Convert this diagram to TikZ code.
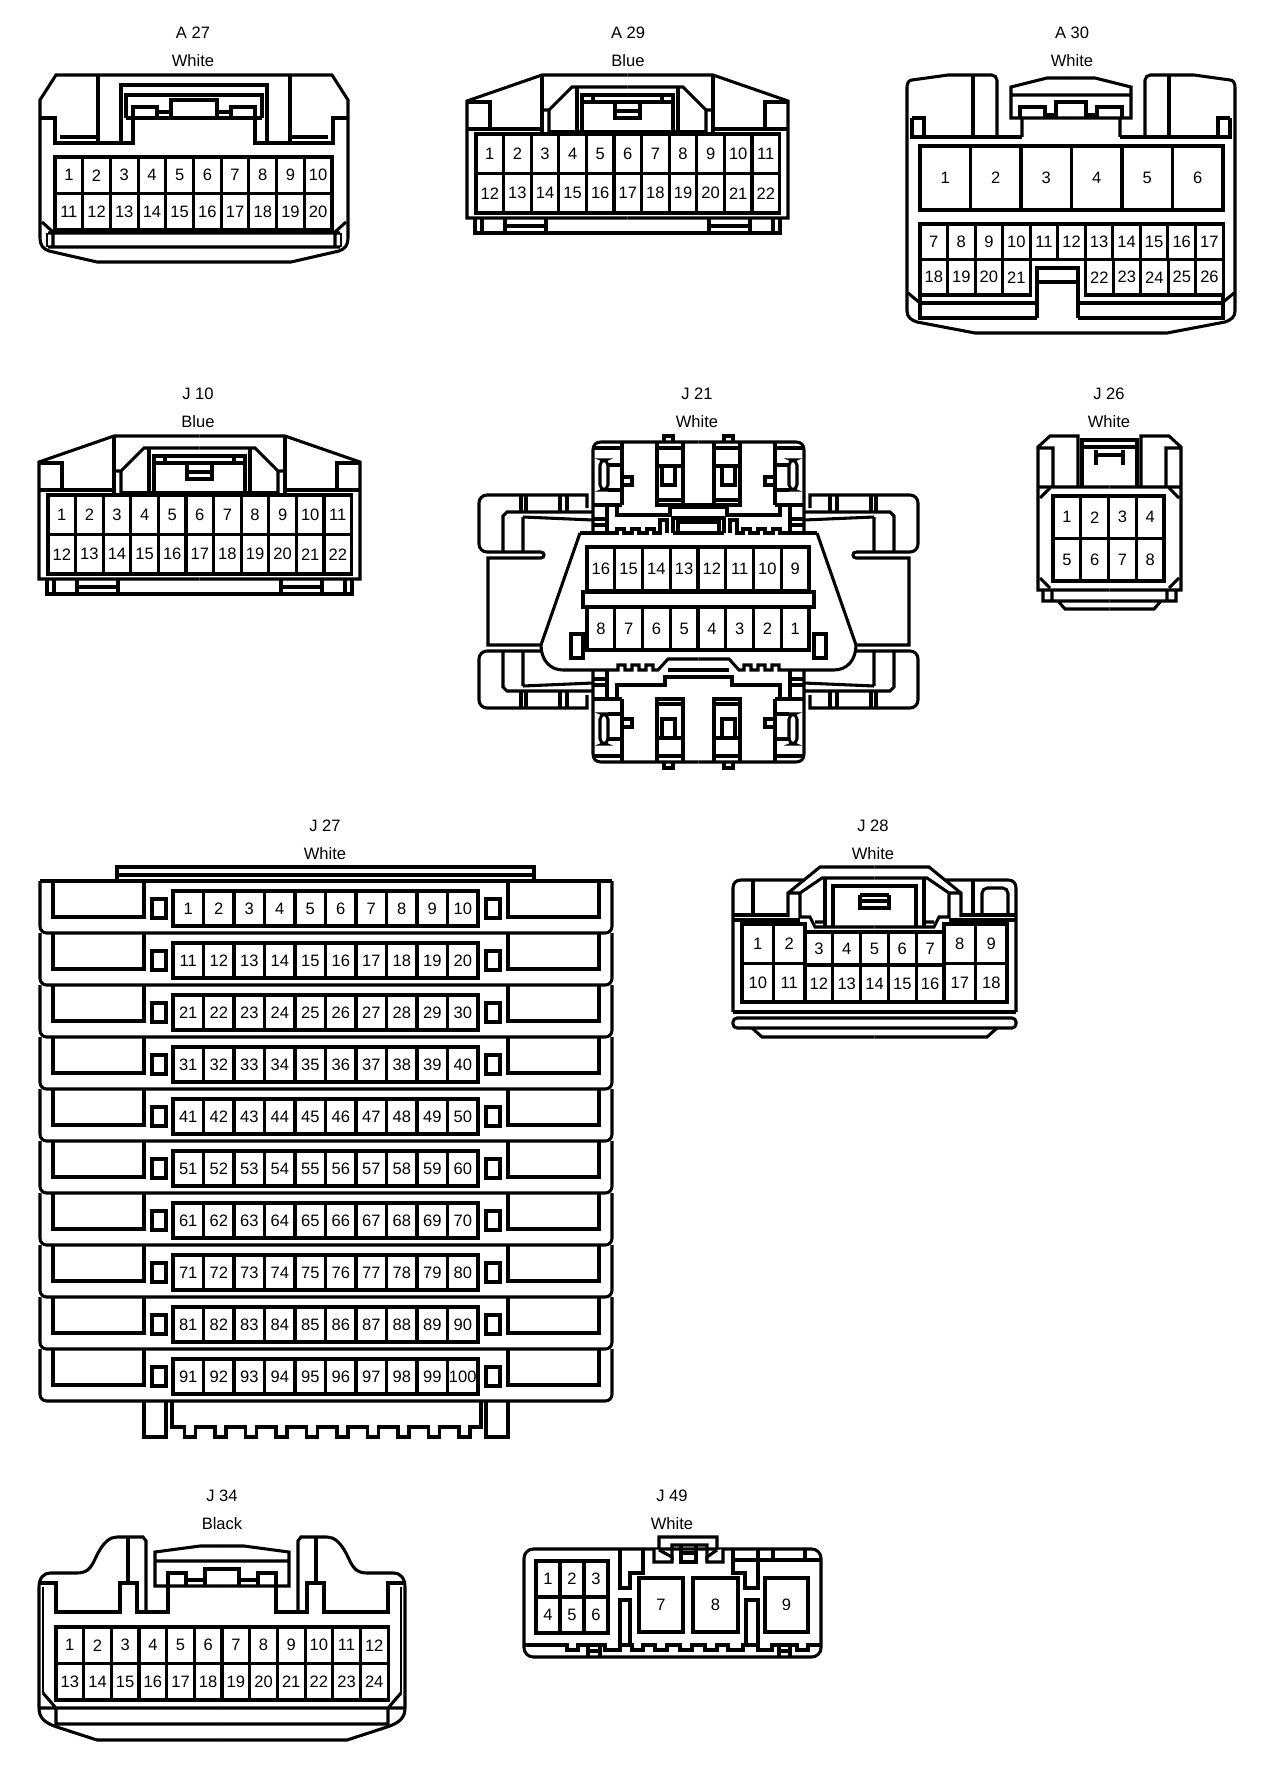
\documentclass[tikz,border=0pt]{standalone}
\usepackage{fontspec}
\setmainfont{Liberation Sans}
\tikzset{
  ln/.style={line width=2.3pt,line join=miter},
  fine/.style={line width=1.4pt},
  pin/.style={draw,line width=2.3pt,rectangle,inner sep=0pt,outer sep=0pt,font=\fontsize{12.4}{14}\selectfont},
  title/.style={inner sep=0pt,font=\fontsize{12.4}{14}\selectfont}
}
%one row of cavities: id, left, top, cell width, cell height, numbers
\newcommand{\pinrow}[6]{
  \foreach \n [count=\i from 0] in {#6}
    \node[pin,minimum width={#4*0.75pt},minimum height={#5*0.75pt}] (#1-\n) at ({#2+(\i+0.5)*#4},{#3+#5/2}) {\n};
}
%a path and its mirror image, the number is twice the axis
\newcommand{\twin}[3][ln]{
  \draw[#1] #3;
  \begin{scope}[shift={(#2,0)},xscale=-1]
    \draw[#1] #3;
  \end{scope}
}
\newcommand{\connlabel}[5]{
  \node[title] (#1-name) at (#2,{#3+1}) {#4};
  \node[title] (#1-colour) at (#2,{#3+29}) {#5};
}
%22 way housing, drawn where A29 stands
\newcommand{\widehousing}{
  \twin{1255}{(627.5,75) -- (542,75) -- (467,101) -- (467,218) -- (627.5,218)}
  \twin{1255}{(467,102) -- (490,102) -- (490,129) (467,129) -- (542,129) (542,75) -- (542,134)}
  \twin{1255}{(542,110) -- (549,110) -- (549,134) (549,110) -- (572,87) -- (627.5,87)}
  \twin{1255}{(577,87) -- (577,131) (549,132) -- (627.5,132)}
  \twin{1255}{(582,132) -- (582,95) -- (627.5,95) (582,102) -- (627.5,102) (593,95) -- (593,102)}
  \twin{1255}{(615,102) -- (615,118) -- (627.5,118) (615,111) -- (627.5,111)}
  \twin{1255}{(475,218) -- (475,233) -- (627.5,233) (482,218) -- (482,233)}
  \twin{1255}{(505,218) -- (505,233) (546,218) -- (546,233) (505,226) -- (546,226)}
}
%side wing of J21
\newcommand{\jwing}{
  \twin{1397}{(587,508) -- (587,495) [rounded corners=6] -- (479,495) -- (479,552) [sharp corners] -- (541,552)}
  \twin{1397}{(503,552) -- (503,516) -- (507,512) -- (593,512) (523,517) -- (523,552) (523,517) -- (593,520)}
  \twin{1397}{(521,495) -- (521,512) (526,495) -- (526,512) (560,495) -- (560,512) (567,495) -- (567,512)}
}
%upper or lower latch block of J21
\newcommand{\jblock}{
  \twin{1397}{(593,533) -- (593,450) .. controls (593,445) and (596,442) .. (601,442) -- (698.5,442)}
  \twin{1397}{(593,505) -- (622,505) (622,442) -- (622,505) (593,448) -- (622,448)}
  \draw[ln,rounded corners=4] (600,460) rectangle (608,490);
  \draw[ln,rounded corners=4] (789,460) rectangle (797,490);
  \twin{1397}{(608,465) -- (622,465) (608,490) -- (622,490) (622,477) -- (632,477) -- (632,485) -- (622,485)}
  \twin{1397}{(664,442) -- (664,436) -- (673,436) -- (673,442)}
  \twin{1397}{(657,442) -- (657,505) -- (683,505) -- (683,442) (657,448) -- (683,448) (657,466) -- (683,466) (657,500) -- (683,500)}
  \twin{1397}{(662,466) -- (662,485) -- (675,485) -- (675,466)}
  \twin{1397}{(593,519) -- (607,519) (593,525) -- (607,525) (607,505) -- (607,533)}
}
\begin{document}
\begin{tikzpicture}[x=0.75pt,y=0.75pt,yscale=-1,xscale=1]
\useasboundingbox (0,0) rectangle (1280,1766);

%A27
\connlabel{aseven}{193}{32}{A 27}{White}
\twin{388}{(194,75) -- (56,75) -- (40,100) -- (40,238) .. controls (40,245) and (43,249) .. (49,251) -- (97,262) -- (194,262)}
\twin{388}{(40,118) -- (55,118) -- (55,143) -- (133,143) -- (133,107) -- (157,107) -- (157,118)}
\twin{388}{(98,75) -- (98,143) (60,137) -- (98,137) (121,143) -- (121,85) -- (194,85)}
\twin{388}{(126,118) -- (126,95) -- (194,95) (126,118) -- (194,118) (171,118) -- (171,100) -- (194,100) (157,112) -- (171,112)}
\twin{388}{(48,233) -- (194,233) (48,247) -- (194,247) (42,222) -- (53,232) -- (53,247)}
\twin[fine]{388}{(47,233) -- (47,247)}
\pinrow{aseven}{55}{157}{27.7}{36.5}{1,...,10}
\pinrow{aseven}{55}{193.5}{27.7}{36.5}{11,...,20}

%A29
\connlabel{anine}{628}{32}{A 29}{Blue}
\widehousing
\pinrow{anine}{476}{134}{27.6}{39.5}{1,...,11}
\pinrow{anine}{476}{173.5}{27.6}{39.5}{12,...,22}

%A30
\connlabel{athirty}{1072}{32}{A 30}{White}
\twin{2142}{(1071,333) -- (975,333) -- (917,322) .. controls (911,320) and (907,317) .. (907,311) -- (907,87) .. controls (907,83) and (909,80) .. (912,80) -- (948,75) [rounded corners=4] -- (997,75) [sharp corners] -- (997,137)}
\twin{2142}{(912,118) -- (912,137) -- (1022,137) (912,118) -- (924,118) -- (924,137) (973,75) -- (973,137)}
\twin{2142}{(1022,137) -- (1022,118) (1071,78) -- (1047,78) -- (1011,87) -- (1011,118) -- (1071,118) (1011,95) -- (1071,95)}
\twin{2142}{(1020,118) -- (1020,107) -- (1045,107) -- (1045,118) (1045,115) -- (1056,115) (1056,118) -- (1056,102) -- (1071,102)}
\pinrow{athirty}{920}{146}{50.5}{64}{1,...,6}
\pinrow{athirty}{920}{224}{27.55}{35.5}{7,...,17}
\pinrow{athirty}{920}{259.5}{27.55}{35.5}{18,...,21}
\pinrow{athirty}{1085.5}{259.5}{27.55}{35.5}{22,...,26}
\draw[ln] (1037,318) -- (1037,268) -- (1078,268) -- (1078,318) (1037,282) -- (1078,282);
\draw[ln] (920,295) -- (920,318) -- (1037,318) (920,303) -- (1037,303);
\draw[ln] (1223,295) -- (1223,318) -- (1078,318) (1223,303) -- (1078,303);
\twin{2142}{(908,293) -- (920,303)}

%J10
\connlabel{jten}{198}{393}{J 10}{Blue}
\begin{scope}[shift={(-428,361)}]
\widehousing
\pinrow{jten}{476}{134}{27.6}{39.5}{1,...,11}
\pinrow{jten}{476}{173.5}{27.6}{39.5}{12,...,22}
\end{scope}

%J21
\connlabel{jtwoone}{697}{393}{J 21}{White}
\jwing
\begin{scope}[shift={(0,1203)},yscale=-1]
\jwing
\end{scope}
\jblock
\begin{scope}[shift={(0,1204)},yscale=-1]
\jblock
\end{scope}
\twin{1397}{(541,552) .. controls (545,552) and (545,558) .. (541,558) -- (488,558) -- (488,645) -- (541,645)}
\twin{1397}{(580,533) -- (541,645) .. controls (541,660) and (550,670) .. (563,670) -- (610,670) foreach \tx in {618,632,646} { -- (\tx,670) -- (\tx,665) -- ({\tx+7},665) -- ({\tx+7},670) } -- (658,670) -- (668,659) -- (698.5,659)}
\twin{1397}{(668,670) -- (698.5,670) (580,533) -- (607,533) foreach \tx in {617,632,647} { -- (\tx,533) -- (\tx,529) -- ({\tx+7},529) -- ({\tx+7},533) } -- (660,533) -- (660,520) -- (667,520) -- (667,533)}
\twin{1397}{(617,505) -- (617,515) -- (670,515) -- (670,507) -- (698.5,507) (683,505) -- (698.5,505)}
\twin{1397}{(673,533) -- (673,518) -- (698.5,518) (678,533) -- (678,522) -- (698.5,522) (673,533) -- (698.5,533)}
\twin{1397}{(617,699) -- (617,685) -- (665,685) -- (665,677) -- (698.5,677)}
\pinrow{jtwoone}{587}{547}{27.75}{44}{16,15,...,9}
\node[pin,minimum width={231*0.75pt},minimum height={15*0.75pt}] (jtwoone-bar) at (698.5,599.5) {};
\pinrow{jtwoone}{587}{607}{27.75}{43}{8,7,...,1}
\twin{1397}{(571,634) rectangle (583,658)}

%J26
\connlabel{jtwosix}{1109}{393}{J 26}{White}
\twin{2219}{(1109.5,590) -- (1038,590) -- (1038,447) -- (1050,436) -- (1078,436) -- (1078,487) (1038,448) -- (1053,448) -- (1053,487) (1038,487) -- (1109.5,487)}
\twin{2219}{(1082,487) -- (1082,440) -- (1109.5,440) (1082,447) -- (1109.5,447) (1096,450) -- (1096,465) (1096,455) -- (1109.5,455)}
\twin{2219}{(1040,498) -- (1050,488) (1040,578) -- (1050,588) (1043,590) -- (1043,601) -- (1109.5,601) (1052,590) -- (1052,601) (1058,601) -- (1065,609) -- (1109.5,609)}
\pinrow{jtwosix}{1053}{496}{27.75}{42.5}{1,...,4}
\pinrow{jtwosix}{1053}{538.5}{27.75}{42.5}{5,...,8}

%J27
\connlabel{jtwoseven}{325}{825}{J 27}{White}
\draw[ln] (117,881) -- (117,867) -- (534,867) -- (534,881) (117,875) -- (534,875);
\draw[ln] (40,881) -- (612,881);
\foreach \rw [evaluate=\rw as \T using {881+52*\rw}, evaluate=\rw as \firstno using {int(10*\rw+1)}, evaluate=\rw as \lastno using {int(10*\rw+10)}, evaluate=\rw as \secondno using {int(10*\rw+2)}] in {0,...,9} {
  \draw[ln,rounded corners=5] (40,\T) -- (40,\T+52) -- (612,\T+52) -- (612,\T);
  \twin{652}{(53,\T) -- (53,\T+36) -- (144,\T+36) -- (144,\T) (152,\T+18) rectangle (166,\T+37)}
  \pinrow{jtwoseven}{173}{\T+10}{30.5}{35}{\firstno,\secondno,...,\lastno}
}
\twin{652}{(144,1402) -- (144,1437) -- (166,1437) -- (166,1402)}
\draw[ln] (172,1402) -- (172,1427) foreach \k in {0,...,9} { -- ({184.5+30.5*\k},1427) -- ({184.5+30.5*\k},1437) -- ({195.5+30.5*\k},1437) -- ({195.5+30.5*\k},1427) } -- (481,1427) -- (481,1402);

%J28
\connlabel{jtwoeight}{873}{825}{J 28}{White}
\twin{1749}{(874.5,1037) -- (762,1037) -- (752,1028) (733,1012) -- (733,888) .. controls (733,883) and (736,880) .. (741,880) -- (803,880)}
\twin{1749}{(788,917) -- (788,893) -- (820,867) -- (874.5,867) (788,893) -- (800,893) -- (822,878) -- (874.5,878) (800,893) -- (800,917) -- (810,917) -- (815,927) -- (874.5,927) (815,922) -- (825,922)}
\twin{1749}{(825,878) -- (825,927) (833,927) -- (833,886) -- (874.5,886) (860,895) -- (860,908) -- (874.5,908) (860,901) -- (874.5,901) (860,895) -- (874.5,895)}
\twin{1749}{(733,915) -- (788,915) (733,920) -- (800,920)}
\draw[ln] (753,880) -- (753,915) (973,880) -- (973,915);
\draw[ln,rounded corners=4] (982,915) -- (982,888) -- (1008,888) -- (1008,915);
\draw[ln] (733,1012) -- (1016,1012);
\draw[ln,rounded corners=3] (733,1018) rectangle (1016,1028);
\pinrow{jtwoeight}{742}{924}{31.5}{39.5}{1,2}
\pinrow{jtwoeight}{742}{963.5}{31.5}{38.5}{10,11}
\pinrow{jtwoeight}{805}{932}{27.8}{33}{3,...,7}
\pinrow{jtwoeight}{805}{965}{27.8}{37}{12,...,16}
\pinrow{jtwoeight}{944}{924}{31.5}{39.5}{8,9}
\pinrow{jtwoeight}{944}{963.5}{31.5}{38.5}{17,18}

%J34
\connlabel{jthreefour}{222}{1495}{J 34}{Black}
\twin{444}{(222,1740) -- (97,1740) -- (57,1727) .. controls (45,1723) and (39,1718) .. (39,1708) -- (39,1587) .. controls (39,1578) and (44,1573) .. (50,1573) -- (77,1573) .. controls (90,1573) and (92,1565) .. (98,1553) .. controls (104,1542) and (110,1537) .. (117,1537) -- (143,1537) -- (146,1541) -- (146,1612)}
\twin{444}{(128,1537) -- (128,1583) (39,1583) -- (56,1583) -- (56,1612) -- (120,1612) -- (120,1583) -- (137,1583) -- (137,1612) -- (168,1612) -- (168,1586)}
\twin{444}{(222,1546) -- (200,1546) -- (155,1552) -- (155,1586) -- (222,1586) (155,1561) -- (222,1561)}
\twin{444}{(168,1586) -- (168,1573) -- (186,1573) -- (186,1586) (186,1580) -- (205,1580) (205,1586) -- (205,1569) -- (222,1569)}
\twin{444}{(40,1708) -- (222,1708) (56,1724) -- (222,1724) (56,1708) -- (56,1727) (43,1693) -- (56,1708)}
\twin[fine]{444}{(43,1587) -- (43,1693)}
\pinrow{jthreefour}{56}{1627}{27.67}{36.5}{1,...,12}
\pinrow{jthreefour}{56}{1663.5}{27.67}{36.5}{13,...,24}

%J49
\connlabel{jfournine}{672}{1495}{J 49}{White}
\draw[ln,rounded corners=7] (524,1549) rectangle (821,1657);
\draw[ln] (659,1550) -- (659,1537) -- (717,1537) -- (717,1550) -- (707,1558) -- (707,1545) -- (672,1545) -- (672,1558) -- cycle;
\draw[ln,fill=white] (654,1549) -- (654,1562) -- (672,1562) -- (672,1557) -- (659,1550);
\draw[ln,fill=white] (723,1549) -- (723,1562) -- (707,1562) -- (707,1557) -- (717,1550);
\draw[ln] (681,1545) -- (681,1562) -- (696,1562) -- (696,1545) (681,1553) -- (696,1553);
\draw[ln] (620,1549) -- (620,1588) -- (630,1588) -- (630,1573) -- (643,1573) -- (643,1549);
\draw[ln] (733,1549) -- (733,1573) -- (745,1573) -- (745,1588) -- (758,1588) -- (758,1549);
\draw[ln] (733,1560) -- (821,1560) (773,1549) -- (773,1560) (805,1549) -- (805,1560);
\pinrow{jfournine}{536}{1561}{24}{36}{1,2,3}
\pinrow{jfournine}{536}{1597}{24}{36}{4,5,6}
\node[pin,minimum width={44*0.75pt},minimum height={54*0.75pt}] (jfournine-7) at (661,1605) {7};
\node[pin,minimum width={45*0.75pt},minimum height={54*0.75pt}] (jfournine-8) at (715.5,1605) {8};
\node[pin,minimum width={43*0.75pt},minimum height={54*0.75pt}] (jfournine-9) at (786.5,1605) {9};
\draw[ln] (620,1645) -- (620,1600) -- (630,1600) -- (630,1645) (746,1645) -- (746,1600) -- (758,1600) -- (758,1645);
\draw[ln] (524,1645) foreach \bx/\bw in {567/11,605/15,632/11,655/12,680/12,705/12,728/15,758/14,797/11} { -- (\bx,1645) -- (\bx,1650) -- ({\bx+\bw},1650) -- ({\bx+\bw},1645) } -- (821,1645);
\draw[ln] (588,1645) -- (588,1657) (600,1645) -- (600,1657) (588,1651) -- (600,1651) (779,1645) -- (779,1657) (790,1645) -- (790,1657) (779,1651) -- (790,1651);

\end{tikzpicture}
\end{document}
